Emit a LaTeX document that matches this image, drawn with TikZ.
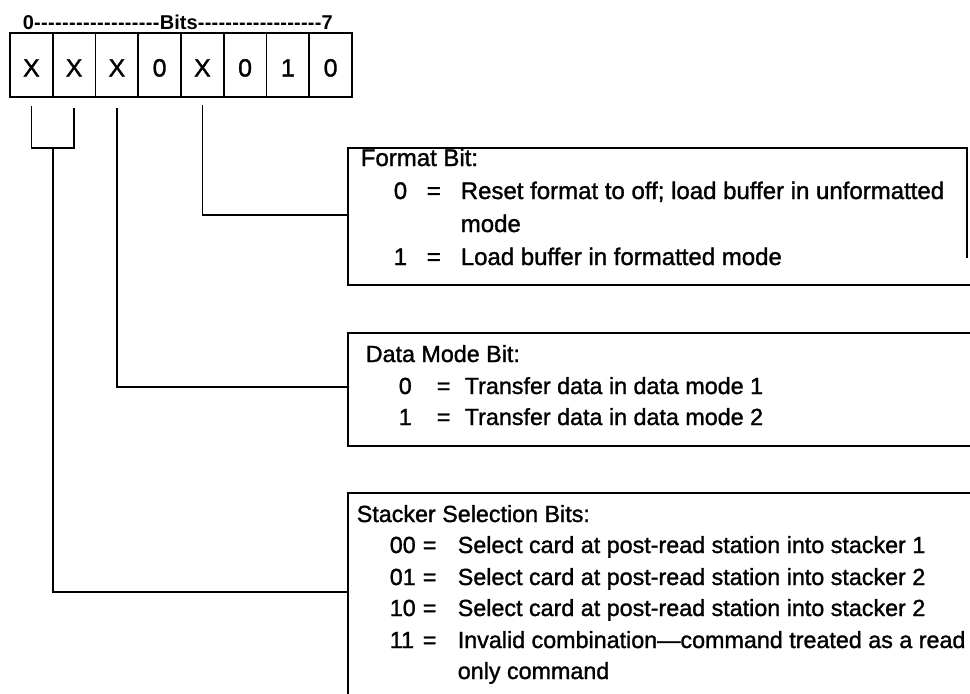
\documentclass[tikz,border=0pt]{standalone}
\usepackage{fontspec}
\setmainfont{Liberation Sans}
\newfontfamily\medfont{Liberation Sans}[FakeBold=1.3]
\begin{document}
\begin{tikzpicture}[x=1pt,y=-1pt,
  line width=1.6pt,
  cell/.style={draw, minimum width=42.75pt, minimum height=64pt, inner sep=0pt,
    font=\medfont\fontsize{25}{26}\selectfont, text height=23pt, text depth=0pt},
  txt/.style={anchor=base west, inner sep=0pt, font=\medfont\fontsize{23.3}{28}\selectfont},
  ftxt/.style={txt, font=\medfont\fontsize{24}{28}\selectfont},
  box/.style={line width=1.6pt},
  conn/.style={line width=1.6pt},
  hdr/.style={anchor=base west, inner sep=0pt, font=\fontsize{20}{22}\selectfont\bfseries}
]
\fill[white] (0,0) rectangle (970,694);
\useasboundingbox (0,0) rectangle (970,694);

% header
\node[hdr] (bitslbl) at (22,29) {0\makebox[126pt]{\xleaders\hbox{-}\hfill}Bits\makebox[124pt]{\xleaders\hbox{-}\hfill}7};

% bit cells
\node[cell] (c1) at (31.4,65) {X};
\node[cell] (c2) at (74.1,65) {X};
\node[cell] (c3) at (116.9,65) {X};
\node[cell] (c4) at (159.6,65) {0};
\node[cell] (c5) at (202.4,65) {X};
\node[cell] (c6) at (245.1,65) {0};
\node[cell] (c7) at (287.9,65) {1};
\node[cell] (c8) at (330.6,65) {0};

% boxes
\draw[box] (967,258) -- (967,148) -- (348,148) -- (348,285) -- (970,285);
\draw[box] (970,333) -- (348,333) -- (348,446) -- (970,446);
\draw[box] (970,493) -- (348,493) -- (348,694);

\coordinate (fmtL) at (348,215);
\coordinate (datL) at (348,387);
\coordinate (stkL) at (348,592);
\coordinate (j12) at (52.75,148);
\coordinate (j12b) at (74.1,148);

% connectors
\draw[conn] ([yshift=-7pt]c5.south) |- (fmtL);
\draw[conn] ([yshift=-10pt]c3.south) |- (datL);
\draw[conn] ([yshift=-8pt]c1.south) |- (j12b) -- ([yshift=-10pt]c2.south);
\draw[conn] (j12) |- (stkL);

% format box text
\node[ftxt] (ft) at (360,166) {Format Bit:};
\node[ftxt] (f0n) at (393,199) {0};
\node[ftxt] (f0e) at (426,199) {=};
\node[ftxt] (f0t) at (460,199) {Reset format to off; load buffer in unformatted};
\node[ftxt] (f0t2) at (460,232) {mode};
\node[ftxt] (f1n) at (393,265) {1};
\node[ftxt] (f1e) at (426,265) {=};
\node[ftxt] (f1t) at (460,265) {Load buffer in formatted mode};

% data mode box text
\node[txt] (dt) at (365,362) {Data Mode Bit:};
\node[txt] (d0n) at (398,394) {0};
\node[txt] (d0e) at (436,394) {=};
\node[txt] (d0t) at (464,394) {Transfer data in data mode 1};
\node[txt] (d1n) at (398,425) {1};
\node[txt] (d1e) at (436,425) {=};
\node[txt] (d1t) at (464,425) {Transfer data in data mode 2};

% stacker box text
\node[txt] (st) at (356,522) {Stacker Selection Bits:};
\node[txt] (s00n) at (389,553) {00};
\node[txt] (s00e) at (422,553) {=};
\node[txt] (s00t) at (457,553) {Select card at post-read station into stacker 1};
\node[txt] (s01n) at (389,585) {01};
\node[txt] (s01e) at (422,585) {=};
\node[txt] (s01t) at (457,585) {Select card at post-read station into stacker 2};
\node[txt] (s10n) at (389,616) {10};
\node[txt] (s10e) at (422,616) {=};
\node[txt] (s10t) at (457,616) {Select card at post-read station into stacker 2};
\node[txt] (s11n) at (389,648) {11};
\node[txt] (s11e) at (422,648) {=};
\node[txt] (s11t) at (457,648) {Invalid combination—command treated as a read};
\node[txt] (s11t2) at (457,679) {only command};
\end{tikzpicture}
\end{document}
